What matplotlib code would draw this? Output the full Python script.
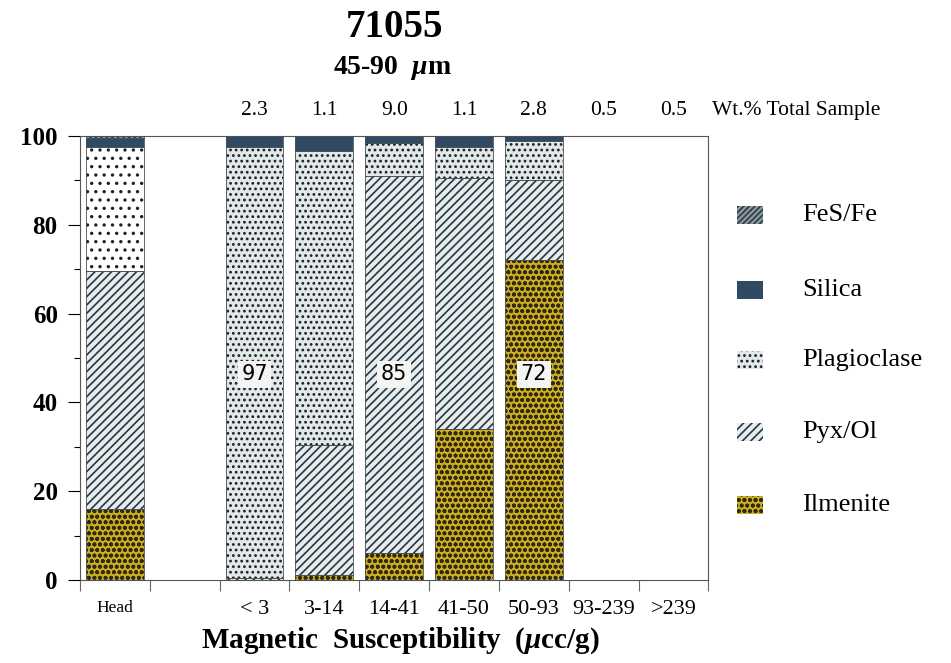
import matplotlib.pyplot as plt
from matplotlib.patches import Rectangle

plt.rcParams['font.family'] = ['Liberation Serif', 'DejaVu Serif']
plt.rcParams['hatch.linewidth'] = 1.2
plt.rcParams['mathtext.fontset'] = 'custom'
plt.rcParams['mathtext.rm'] = 'Liberation Serif:bold'
plt.rcParams['mathtext.it'] = 'Liberation Serif:italic:bold'

# size fractions along the x axis (blank slot after Head)
categories = ['Head', '', '< 3', '3-14', '14-41', '41-50', '50-93', '93-239', '>239']
wt_pct = ['', '', '2.3', '1.1', '9.0', '1.1', '2.8', '0.5', '0.5']

# modal abundance (%) of each phase, stacked bottom to top
ilmenite    = [16.0, 0, 0.0, 1.2, 6.0, 34.0, 72.0, 0, 0]
pyx_ol      = [53.5, 0, 0.5, 29.3, 85.0, 56.5, 18.0, 0, 0]
plagioclase = [28.0, 0, 97.0, 66.0, 7.5, 7.0, 8.8, 0, 0]
silica      = [2.0, 0, 2.5, 3.5, 1.5, 2.5, 1.2, 0, 0]
fes_fe      = [0.5, 0, 0.0, 0.0, 0.0, 0.0, 0.0, 0, 0]

# numbers printed on the dominant phase
bar_labels = {2: plagioclase[2], 4: pyx_ol[4], 6: ilmenite[6]}

phases = [
    ('Ilmenite', ilmenite, '#cfae1c', '#2e2a18', 'ooo'),
    ('Pyx/Ol', pyx_ol, '#e4ecee', '#2a343c', '////'),
    ('Plagioclase', plagioclase, '#e2e7e7', '#1a2028', '...'),
    ('Silica', silica, '#2f4a62', '#2f4a62', None),
    ('FeS/Fe', fes_fe, '#8a9ba4', '#2f3a40', '//////'),
]

fig = plt.figure(figsize=(9.51, 6.63), dpi=100)
ax = fig.add_axes([0.084, 0.125, 0.661, 0.67])

x = [i + 0.5 for i in range(len(categories))]
width = 0.83
bottom = [0.0] * len(categories)
for name, vals, face, hcol, hatch in phases:
    ax.bar(x, vals, width, bottom=bottom, color=face, edgecolor=hcol,
           hatch=hatch, linewidth=0, zorder=2)
    ax.bar(x, vals, width, bottom=bottom, fill=False, edgecolor='#4a5058',
           linewidth=0.6, zorder=3)
    bottom = [b + v for b, v in zip(bottom, vals)]

# Head plagioclase is drawn on a white ground with sparser dots
ax.bar(x[0], plagioclase[0], width, bottom=ilmenite[0] + pyx_ol[0], color='white',
       edgecolor='#1e2228', hatch='..', linewidth=0, zorder=2.5)

for i, v in bar_labels.items():
    ax.text(x[i], 46.3, f'{v:.0f}', ha='center', va='center', fontsize=15,
            family='DejaVu Sans', zorder=5,
            bbox=dict(facecolor='#f4f4f2', edgecolor='none', pad=2.5))

for i, w in enumerate(wt_pct):
    if w:
        ax.text(x[i], 105.8, w, ha='center', va='center', fontsize=15.5, clip_on=False)
ax.text(9.05, 105.8, 'Wt.% Total Sample', ha='left', va='center', fontsize=15.5,
        clip_on=False)

ax.set_xlim(0, 9)
ax.set_ylim(0, 100)
ax.set_yticks(range(0, 101, 20))
ax.set_yticks(range(10, 100, 20), minor=True)
ax.tick_params(axis='y', which='major', length=9, width=0.8, labelsize=18, pad=7)
ax.tick_params(axis='y', which='minor', length=4, width=0.8)
for lab in ax.get_yticklabels():
    lab.set_fontweight('bold')

ax.set_xticks(range(0, 10))
ax.set_xticklabels([])
ax.set_xticks(x, minor=True)
ax.set_xticklabels(categories, minor=True)
ax.tick_params(axis='x', which='major', length=8, width=0.8, color='#666666')
ax.tick_params(axis='x', which='minor', length=0, labelsize=16, pad=14)
ax.get_xticklabels(minor=True)[0].set_fontsize(12.5)

for sp in ax.spines.values():
    sp.set_color('#555555')
    sp.set_linewidth(0.8)

fig.text(400 / 951, 1 - 641 / 663, 'Magnetic  Susceptibility  ($\\mu$cc/g)',
         ha='center', va='center', fontsize=21, fontweight='bold')

fig.text(0.4145, 0.958, '71055', ha='center', va='center', fontsize=28,
         fontweight='bold')
fig.text(0.4125, 0.898, '45-90  $\\mu$m', ha='center', va='center',
         fontsize=20, fontweight='bold')

# legend, top entry first
leg_y = [215, 290, 360, 432, 505]
for (name, vals, face, hcol, hatch), py in zip(phases[::-1], leg_y):
    fy = 1 - py / 663
    fig.add_artist(Rectangle((737 / 951, fy - 9 / 663), 26 / 951, 18 / 663,
                             transform=fig.transFigure, facecolor=face,
                             edgecolor=hcol, hatch=hatch, linewidth=0))
    fig.text(802 / 951, fy, name, ha='left', va='center', fontsize=19)

fig.savefig('out.png', dpi=100)
